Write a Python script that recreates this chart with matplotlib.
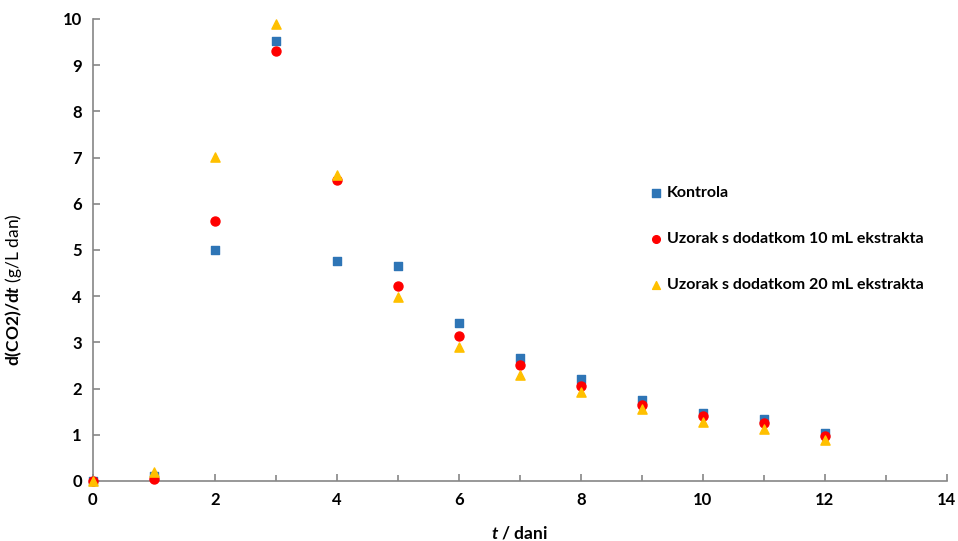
import matplotlib
matplotlib.use('Agg')
import matplotlib.pyplot as plt
from matplotlib.ticker import MultipleLocator

plt.rcParams['font.family'] = ['Lato', 'DejaVu Sans']
plt.rcParams['mathtext.fontset'] = 'custom'
plt.rcParams['mathtext.rm'] = 'Lato'
plt.rcParams['mathtext.bf'] = 'Lato:bold'
plt.rcParams['mathtext.it'] = 'Lato:italic'
plt.rcParams['mathtext.bfit'] = 'Lato:bold:italic'

days = [0, 1, 2, 3, 4, 5, 6, 7, 8, 9, 10, 11, 12]
kontrola = [0.0, 0.1, 5.0, 9.52, 4.76, 4.65, 3.42, 2.66, 2.21, 1.76, 1.47, 1.35, 1.04]
uzorak_10 = [0.0, 0.05, 5.62, 9.30, 6.52, 4.22, 3.14, 2.51, 2.06, 1.65, 1.41, 1.26, 0.97]
uzorak_20 = [0.0, 0.19, 7.02, 9.88, 6.62, 3.98, 2.90, 2.29, 1.93, 1.56, 1.28, 1.13, 0.89]

fig = plt.figure(figsize=(9.58, 5.41), dpi=100)
ax = fig.add_axes([0.097, 0.111, 0.8915, 0.854])

ax.scatter(days, kontrola, marker='s', s=36, color='#2E75B6', label='Kontrola',
           zorder=3, clip_on=False)
ax.scatter(days, uzorak_10, marker='o', s=42, color='#FF0000',
           label='Uzorak s dodatkom 10 mL ekstrakta', zorder=4, clip_on=False)
ax.scatter(days, uzorak_20, marker='^', s=44, color='#FFC000',
           label='Uzorak s dodatkom 20 mL ekstrakta', zorder=5, clip_on=False)

ax.set_xlim(0, 14)
ax.set_ylim(0, 10)
ax.xaxis.set_major_locator(MultipleLocator(2))
ax.xaxis.set_minor_locator(MultipleLocator(1))
ax.yaxis.set_major_locator(MultipleLocator(1))

for side in ['top', 'right']:
    ax.spines[side].set_visible(False)
for side in ['left', 'bottom']:
    ax.spines[side].set_color('#868686')
    ax.spines[side].set_linewidth(1.2)
ax.tick_params(which='both', direction='in', color='#868686', width=1.2)
ax.tick_params(which='major', length=5, labelsize=12, pad=8)
ax.tick_params(which='minor', length=4)
for lab in ax.get_xticklabels() + ax.get_yticklabels():
    lab.set_fontweight('bold')

ax.set_xlabel(r'$\mathbfit{t}$ / dani', fontsize=12.5, fontweight='bold', labelpad=12)
ax.set_ylabel(r'$\mathbf{d(CO2)/d}\mathbfit{t}$ (g/L dan)', fontsize=12.5)
ax.yaxis.set_label_coords(-0.081, 0.413)

leg = ax.legend(loc='upper left', bbox_to_anchor=(0.635, 0.67), frameon=False,
                fontsize=11.5, labelspacing=2.0, handletextpad=0.3, handlelength=0.8,
                markerscale=0.85)
for t in leg.get_texts():
    t.set_fontweight('bold')

fig.savefig('out.png', dpi=100)
